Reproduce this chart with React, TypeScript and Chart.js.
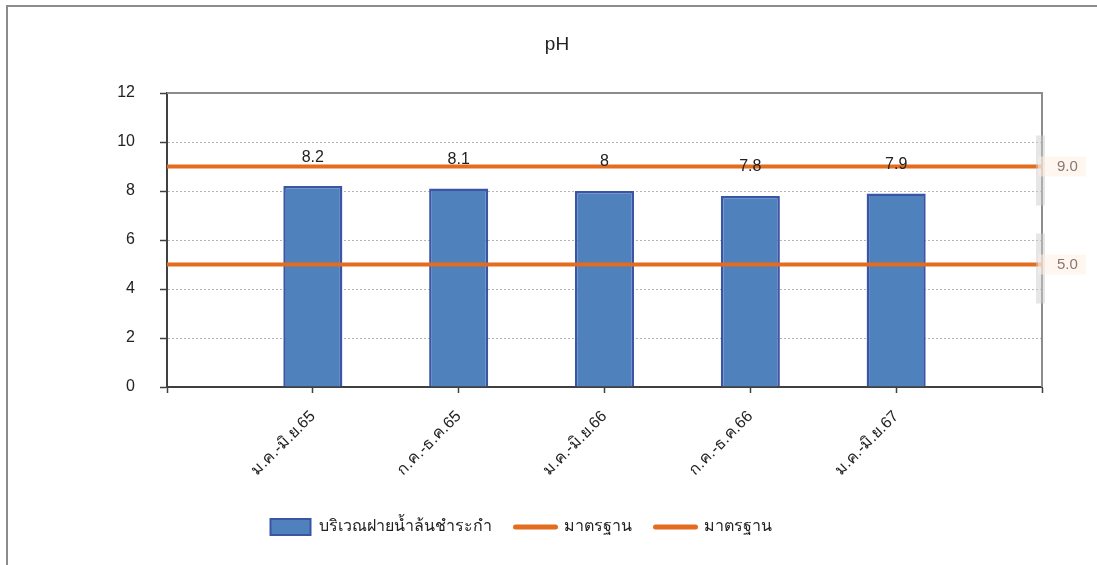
import React, { useEffect, useRef } from 'react';
import { Chart, registerables } from 'chart.js';

Chart.register(...registerables);

const TITLE = 'pH';
const CATEGORIES = ['', 'ม.ค.-มิ.ย.65', 'ก.ค.-ธ.ค.65', 'ม.ค.-มิ.ย.66', 'ก.ค.-ธ.ค.66', 'ม.ค.-มิ.ย.67', ''];
const PH_VALUES: (number | null)[] = [null, 8.2, 8.1, 8, 7.8, 7.9, null];
const STANDARD_UPPER = [9, 9, 9, 9, 9, 9, 9];
const STANDARD_LOWER = [5, 5, 5, 5, 5, 5, 5];
const SERIES_NAMES = ['บริเวณฝายน้ำล้นชำระกำ', 'มาตรฐาน', 'มาตรฐาน'];
const STANDARD_TEXT = ['9.0', '5.0'];
const Y_MIN = 0;
const Y_MAX = 12;
const Y_STEP = 2;

const FONT = '"Liberation Sans", "Noto Sans", Arial, sans-serif';
const BAR_FILL = '#4F81BD';
const BAR_BORDER = '#3A55A5';
const ORANGE = '#E46C1F';
const TEXT = '#222222';

const extras = {
  id: 'extras',
  beforeDatasetsDraw(chart: any) {
    const { ctx, chartArea } = chart;
    ctx.save();
    ctx.strokeStyle = '#8c8c8c';
    ctx.lineWidth = 2;
    ctx.beginPath();
    ctx.moveTo(chartArea.left, chartArea.top);
    ctx.lineTo(chartArea.right, chartArea.top);
    ctx.lineTo(chartArea.right, chartArea.bottom);
    ctx.stroke();
    ctx.restore();
  },
  afterDatasetsDraw(chart: any) {
    const { ctx, chartArea } = chart;
    ctx.save();
    // title
    ctx.fillStyle = TEXT;
    ctx.font = `19px ${FONT}`;
    ctx.textAlign = 'center';
    ctx.textBaseline = 'middle';
    ctx.fillText(TITLE, 557, 45);
    // value labels
    const meta = chart.getDatasetMeta(0);
    ctx.font = `16px ${FONT}`;
    meta.data.forEach((bar: any, i: number) => {
      const v = PH_VALUES[i];
      if (v == null) return;
      ctx.fillText(String(v), bar.x, bar.y - 29);
    });
    // standard labels at right
    const yScale = chart.scales.y;
    const stds = [STANDARD_UPPER[0], STANDARD_LOWER[0]];
    stds.forEach((s, k) => {
      const y = yScale.getPixelForValue(s);
      ctx.fillStyle = 'rgba(205,205,205,0.5)';
      ctx.fillRect(chartArea.right - 6, y - 31, 9, 70);
      ctx.fillStyle = 'rgba(255,238,226,0.55)';
      ctx.fillRect(chartArea.right - 4, y - 10, 48, 20);
      ctx.fillStyle = '#8a7670';
      ctx.textAlign = 'left';
      ctx.font = `15px ${FONT}`;
      ctx.fillText(STANDARD_TEXT[k], chartArea.right + 15, y);
    });
    ctx.restore();
  },
};

export default function App() {
  const ref = useRef<HTMLCanvasElement | null>(null);
  useEffect(() => {
    if (!ref.current) return;
    Chart.defaults.font.family = FONT;
    const chart = new Chart(ref.current, {
      type: 'bar',
      data: {
        labels: CATEGORIES,
        datasets: [
          {
            type: 'bar',
            label: SERIES_NAMES[0],
            data: PH_VALUES,
            backgroundColor: BAR_FILL,
            borderColor: BAR_BORDER,
            borderWidth: 2.5,
            barPercentage: 0.405,
            categoryPercentage: 1,
            order: 1,
          },
          {
            type: 'line',
            label: SERIES_NAMES[1],
            data: STANDARD_UPPER,
            borderColor: ORANGE,
            backgroundColor: ORANGE,
            borderWidth: 4,
            pointRadius: 0,
            order: 0,
          },
          {
            type: 'line',
            label: SERIES_NAMES[2],
            data: STANDARD_LOWER,
            borderColor: ORANGE,
            backgroundColor: ORANGE,
            borderWidth: 4,
            pointRadius: 0,
            order: 0,
          },
        ] as any,
      },
      plugins: [extras],
      options: {
        animation: false,
        responsive: false,
        maintainAspectRatio: false,
        layout: { padding: { left: 0, right: 55, top: 93, bottom: 20 } },
        plugins: {
          title: { display: false },
          tooltip: { enabled: false },
          legend: {
            position: 'bottom',
            labels: {
              usePointStyle: true,
              pointStyleWidth: 40,
              padding: 24,
              color: TEXT,
              font: { size: 16, family: FONT },
              generateLabels: (c: any) =>
                c.data.datasets.map((ds: any, i: number) => ({
                  text: ds.label,
                  fillStyle: i === 0 ? BAR_FILL : ORANGE,
                  strokeStyle: i === 0 ? BAR_BORDER : ORANGE,
                  lineWidth: i === 0 ? 2 : 5,
                  lineCap: 'round',
                  pointStyle: i === 0 ? 'rect' : 'line',
                  hidden: false,
                  datasetIndex: i,
                  fontColor: TEXT,
                })),
            },
          },
        },
        scales: {
          x: {
            offset: false,
            grid: {
              display: true,
              offset: false,
              drawOnChartArea: false,
              drawTicks: true,
              tickLength: 6,
              tickColor: '#404040',
              tickWidth: 1.5,
            },
            border: { color: '#404040', width: 2 },
            ticks: {
              autoSkip: false,
              maxRotation: 45,
              minRotation: 45,
              padding: 14,
              color: TEXT,
              font: { size: 16, family: FONT },
            },
            afterFit: (s: any) => {
              s.height = 108;
            },
          },
          y: {
            min: Y_MIN,
            max: Y_MAX,
            grid: {
              color: (ctx: any) =>
                ctx.tick && (ctx.tick.value === Y_MIN || ctx.tick.value === Y_MAX) ? 'rgba(0,0,0,0)' : '#b4b4b4',
              lineWidth: 1,
              tickLength: 7,
              tickColor: '#404040',
              tickWidth: 1.5,
            },
            border: { color: '#404040', width: 2, dash: [2, 2] },
            ticks: {
              stepSize: Y_STEP,
              padding: 25,
              color: TEXT,
              font: { size: 16, family: FONT },
            },
            afterFit: (s: any) => {
              s.width = 167;
            },
          },
        },
      } as any,
    });
    return () => chart.destroy();
  }, []);

  return (
    <div style={{ position: 'fixed', left: 0, top: 0, width: 1097, height: 565, background: '#fff', overflow: 'hidden' }}>
      <canvas ref={ref} width={1097} height={565} style={{ display: 'block' }} />
      <div
        style={{
          position: 'absolute',
          left: 6,
          top: 5,
          width: 1200,
          height: 700,
          border: '2px solid #8c8c8c',
          pointerEvents: 'none',
        }}
      />
    </div>
  );
}
